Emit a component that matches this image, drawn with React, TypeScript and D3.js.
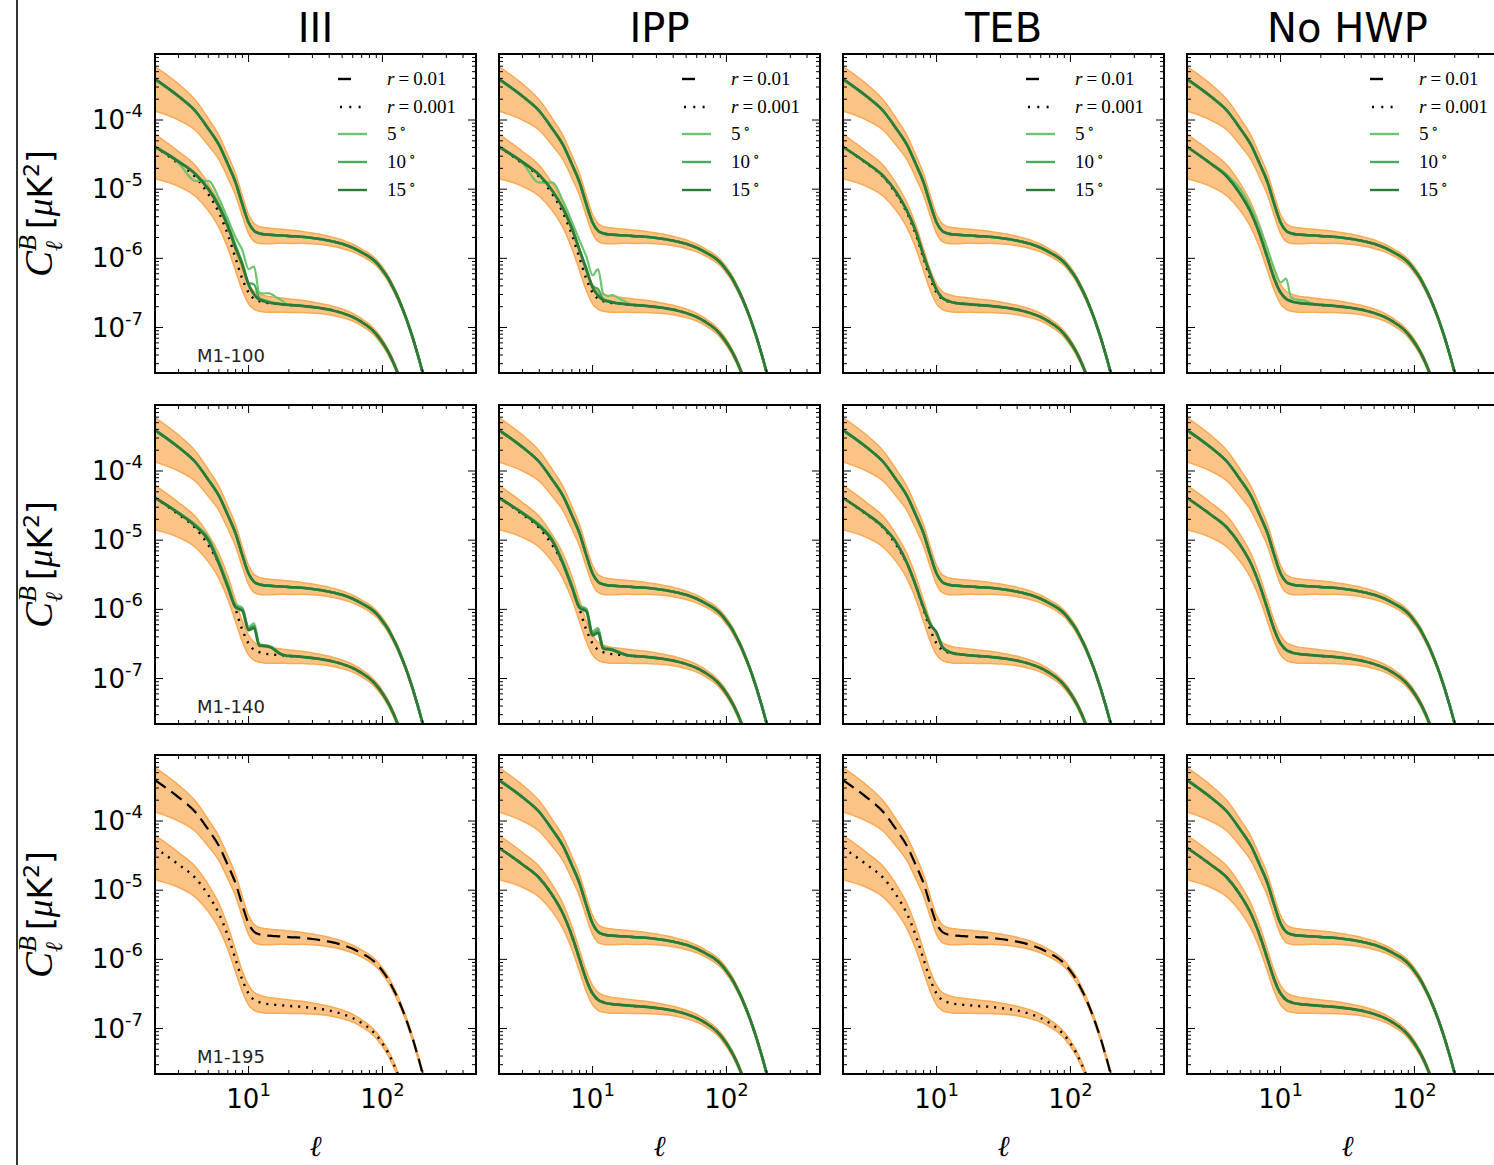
import React from "react";
import * as d3 from "d3";

// column / row headings
const columnTitles = ["III", "IPP", "TEB", "No HWP"];
const rowLabels = ["M1-100", "M1-140", "M1-195"];
const angleLabels = ["5", "10", "15"];
const angleColors = ["#6cc46e", "#45ad5b", "#2b7b38"];

// multipoles
const ell = [2, 3, 4, 5, 6, 7, 8, 9, 10, 11, 12, 13, 14, 15, 16, 17, 18, 19, 20, 25, 30, 40, 50, 60, 70, 80, 90, 100, 110, 120, 130, 140, 150, 160, 170, 180, 190, 200, 210];
const ellLow = [2, 3, 4, 5, 6, 7, 8, 9, 10, 11, 12, 13, 14, 15, 16, 17, 18, 19, 20, 25, 30, 40, 50, 60, 70, 80, 90, 100, 110, 120, 130, 140, 150];
const ellDev = [2, 3, 4, 5, 6, 7, 8, 9, 10, 11, 12, 13, 14, 15, 16, 17, 18, 19, 20];

// r = 0.01 input spectrum and its band
const clR01 = [3.9e-4, 2.2e-4, 1.35e-4, 7.5e-5, 4.4e-5, 2.3e-5, 1.25e-5, 6.0e-6, 3.3e-6, 2.5e-6, 2.3e-6, 2.22e-6, 2.2e-6, 2.18e-6, 2.16e-6, 2.15e-6, 2.14e-6, 2.12e-6, 2.1e-6, 2.05e-6, 1.97e-6, 1.8e-6, 1.62e-6, 1.42e-6, 1.22e-6, 1.05e-6, 8.7e-7, 6.8e-7, 5.2e-7, 3.8e-7, 2.75e-7, 1.95e-7, 1.38e-7, 9.6e-8, 6.7e-8, 4.6e-8, 3.2e-8, 2.2e-8, 1.5e-8];
const clR01Hi = [5.9e-4, 3.3e-4, 1.95e-4, 1.05e-4, 6.0e-5, 3.1e-5, 1.67e-5, 7.9e-6, 4.3e-6, 3.2e-6, 2.9e-6, 2.8e-6, 2.75e-6, 2.7e-6, 2.68e-6, 2.65e-6, 2.63e-6, 2.6e-6, 2.56e-6, 2.45e-6, 2.32e-6, 2.08e-6, 1.85e-6, 1.6e-6, 1.36e-6, 1.17e-6, 9.6e-7, 7.5e-7, 5.7e-7, 4.15e-7, 3.0e-7, 2.11e-7, 1.49e-7, 1.04e-7, 7.2e-8, 4.95e-8, 3.43e-8, 2.36e-8, 1.6e-8];
const clR01Lo = [1.35e-4, 1.0e-4, 7.1e-5, 4.3e-5, 2.7e-5, 1.46e-5, 8.2e-6, 4.05e-6, 2.3e-6, 1.76e-6, 1.65e-6, 1.62e-6, 1.62e-6, 1.63e-6, 1.64e-6, 1.65e-6, 1.65e-6, 1.65e-6, 1.64e-6, 1.65e-6, 1.62e-6, 1.52e-6, 1.39e-6, 1.24e-6, 1.08e-6, 9.3e-7, 7.8e-7, 6.1e-7, 4.7e-7, 3.45e-7, 2.5e-7, 1.79e-7, 1.27e-7, 8.8e-8, 6.2e-8, 4.25e-8, 2.97e-8, 2.04e-8, 1.4e-8];

// r = 0.001 input spectrum and its band
const clR001 = [4.1e-5, 2.35e-5, 1.5e-5, 8.5e-6, 4.6e-6, 2.2e-6, 1.0e-6, 5.0e-7, 3.2e-7, 2.6e-7, 2.4e-7, 2.3e-7, 2.25e-7, 2.22e-7, 2.2e-7, 2.18e-7, 2.16e-7, 2.14e-7, 2.12e-7, 2.06e-7, 1.98e-7, 1.82e-7, 1.62e-7, 1.42e-7, 1.2e-7, 1.0e-7, 8.0e-8, 6.1e-8, 4.5e-8, 3.2e-8, 2.2e-8, 1.5e-8, 1.0e-8];
const clR001Hi = [6.2e-5, 3.5e-5, 2.2e-5, 1.2e-5, 6.4e-6, 3.0e-6, 1.35e-6, 6.7e-7, 4.2e-7, 3.35e-7, 3.05e-7, 2.9e-7, 2.82e-7, 2.77e-7, 2.73e-7, 2.7e-7, 2.66e-7, 2.62e-7, 2.59e-7, 2.47e-7, 2.34e-7, 2.1e-7, 1.85e-7, 1.6e-7, 1.34e-7, 1.11e-7, 8.8e-8, 6.7e-8, 4.9e-8, 3.5e-8, 2.4e-8, 1.63e-8, 1.08e-8];
const clR001Lo = [1.42e-5, 1.1e-5, 7.9e-6, 4.9e-6, 2.8e-6, 1.4e-6, 6.6e-7, 3.4e-7, 2.2e-7, 1.83e-7, 1.72e-7, 1.68e-7, 1.66e-7, 1.66e-7, 1.66e-7, 1.66e-7, 1.66e-7, 1.66e-7, 1.65e-7, 1.65e-7, 1.62e-7, 1.53e-7, 1.39e-7, 1.24e-7, 1.06e-7, 8.9e-8, 7.2e-8, 5.5e-8, 4.1e-8, 2.9e-8, 2.0e-8, 1.37e-8, 9.2e-9];

// recovered r = 0.001 spectra at low ell (ell = 2..20), per panel and angle
const m100III5 = [4.1e-5, 2.4e-5, 1.32e-5, 1.32e-5, 7.4e-6, 3.7e-6, 2.0e-6, 1.3e-6, 7.0e-7, 7.6e-7, 3.2e-7, 3.1e-7, 3.15e-7, 3.0e-7, 2.75e-7, 2.6e-7, 2.4e-7, 2.2e-7, 2.12e-7];
const m100III10 = [4.1e-5, 2.55e-5, 1.7e-5, 1.05e-5, 6.0e-6, 3.1e-6, 1.55e-6, 8.5e-7, 4.4e-7, 4.2e-7, 2.7e-7, 2.5e-7, 2.4e-7, 2.3e-7, 2.25e-7, 2.2e-7, 2.17e-7, 2.14e-7, 2.12e-7];
const m100III15 = [4.1e-5, 2.5e-5, 1.65e-5, 1.0e-5, 5.6e-6, 2.9e-6, 1.4e-6, 8.0e-7, 4.2e-7, 3.0e-7, 2.55e-7, 2.4e-7, 2.3e-7, 2.25e-7, 2.22e-7, 2.19e-7, 2.16e-7, 2.14e-7, 2.12e-7];
const m100IPP5 = [4.1e-5, 2.4e-5, 1.24e-5, 1.24e-5, 6.8e-6, 3.4e-6, 1.8e-6, 1.05e-6, 5.7e-7, 7.0e-7, 3.1e-7, 2.85e-7, 2.95e-7, 2.8e-7, 2.6e-7, 2.45e-7, 2.3e-7, 2.2e-7, 2.12e-7];
const m100IPP10 = [4.1e-5, 2.5e-5, 1.6e-5, 9.6e-6, 5.4e-6, 2.8e-6, 1.35e-6, 7.2e-7, 4.0e-7, 3.6e-7, 2.6e-7, 2.45e-7, 2.35e-7, 2.28e-7, 2.23e-7, 2.2e-7, 2.17e-7, 2.14e-7, 2.12e-7];
const m100IPP15 = [4.1e-5, 2.45e-5, 1.6e-5, 9.5e-6, 5.3e-6, 2.7e-6, 1.3e-6, 6.8e-7, 3.8e-7, 2.9e-7, 2.5e-7, 2.38e-7, 2.3e-7, 2.25e-7, 2.22e-7, 2.19e-7, 2.16e-7, 2.14e-7, 2.12e-7];
const m100TEB = [4.1e-5, 2.4e-5, 1.55e-5, 9.0e-6, 4.9e-6, 2.45e-6, 1.1e-6, 5.8e-7, 3.5e-7, 2.7e-7, 2.45e-7, 2.32e-7, 2.26e-7, 2.22e-7, 2.2e-7, 2.18e-7, 2.16e-7, 2.14e-7, 2.12e-7];
const m100NoHWP5 = [4.1e-5, 2.4e-5, 1.6e-5, 1.0e-5, 5.4e-6, 2.8e-6, 1.35e-6, 7.0e-7, 4.5e-7, 5.1e-7, 2.7e-7, 2.55e-7, 2.5e-7, 2.45e-7, 2.35e-7, 2.25e-7, 2.18e-7, 2.14e-7, 2.12e-7];
const m140III5 = [4.1e-5, 2.5e-5, 1.7e-5, 1.1e-5, 5.1e-6, 2.35e-6, 1.18e-6, 1.05e-6, 5.6e-7, 6.3e-7, 3.2e-7, 3.05e-7, 3.0e-7, 2.85e-7, 2.6e-7, 2.35e-7, 2.22e-7, 2.15e-7, 2.12e-7];
const m140III10 = [4.1e-5, 2.5e-5, 1.65e-5, 1.05e-5, 4.9e-6, 2.25e-6, 1.12e-6, 1.0e-6, 5.3e-7, 5.8e-7, 3.1e-7, 3.0e-7, 2.95e-7, 2.8e-7, 2.55e-7, 2.32e-7, 2.2e-7, 2.15e-7, 2.12e-7];
const m140III15 = [4.1e-5, 2.45e-5, 1.6e-5, 1.0e-5, 4.6e-6, 2.1e-6, 1.07e-6, 9.5e-7, 5.0e-7, 5.4e-7, 3.0e-7, 2.95e-7, 2.9e-7, 2.75e-7, 2.5e-7, 2.3e-7, 2.2e-7, 2.15e-7, 2.12e-7];
const m140IPP5 = [4.1e-5, 2.5e-5, 1.7e-5, 1.05e-5, 5.0e-6, 2.3e-6, 1.15e-6, 1.02e-6, 4.8e-7, 5.4e-7, 2.9e-7, 2.75e-7, 2.7e-7, 2.55e-7, 2.4e-7, 2.28e-7, 2.2e-7, 2.15e-7, 2.12e-7];
const m140IPP10 = [4.1e-5, 2.5e-5, 1.65e-5, 1.02e-5, 4.8e-6, 2.2e-6, 1.1e-6, 9.8e-7, 4.5e-7, 5.0e-7, 2.8e-7, 2.7e-7, 2.65e-7, 2.5e-7, 2.38e-7, 2.27e-7, 2.19e-7, 2.14e-7, 2.12e-7];
const m140IPP15 = [4.1e-5, 2.45e-5, 1.6e-5, 9.8e-6, 4.6e-6, 2.1e-6, 1.05e-6, 9.3e-7, 4.2e-7, 4.6e-7, 2.7e-7, 2.65e-7, 2.6e-7, 2.45e-7, 2.35e-7, 2.25e-7, 2.18e-7, 2.14e-7, 2.12e-7];
const m140TEB = [4.1e-5, 2.4e-5, 1.55e-5, 9.2e-6, 4.7e-6, 2.2e-6, 1.05e-6, 6.0e-7, 4.6e-7, 2.9e-7, 2.5e-7, 2.35e-7, 2.28e-7, 2.24e-7, 2.21e-7, 2.18e-7, 2.16e-7, 2.14e-7, 2.12e-7];
const baseLow = clR001.slice(0, ellDev.length);

// per panel [row][col]: recovered curves for 5/10/15 deg, or null when only the input is drawn
const panelCurves = [
  [[m100III5, m100III10, m100III15], [m100IPP5, m100IPP10, m100IPP15], [m100TEB, m100TEB, m100TEB], [m100NoHWP5, baseLow, baseLow]],
  [[m140III5, m140III10, m140III15], [m140IPP5, m140IPP10, m140IPP15], [m140TEB, m140TEB, m140TEB], [baseLow, baseLow, baseLow]],
  [null, [baseLow, baseLow, baseLow], null, [baseLow, baseLow, baseLow]],
];

// layout
const W = 1494, H = 1165;
const colLeft = [155, 499, 843, 1187];
const rowTop = [54, 405, 755];
const PW = 321, PH = 319;

const x = d3.scaleLog().domain([2, 500]).range([0, PW]);
const y = d3.scaleLog().domain([9e-4, 2.2e-8]).range([0, PH]);

const line = d3.line<[number, number]>().x(d => x(d[0])).y(d => y(d[1])).curve(d3.curveMonotoneX);
const area = d3.area<[number, number, number]>().x(d => x(d[0])).y0(d => y(d[1])).y1(d => y(d[2])).curve(d3.curveMonotoneX);

const isMajor = (t: number) => Math.abs(Math.log10(t) - Math.round(Math.log10(t))) < 1e-6;
const xTicks = x.ticks();
const yTicks = y.ticks();

const bandFill = "#fcc387";
const bandEdge = "#f8aa56";
const sans = "DejaVu Sans, sans-serif";
const serif = "Liberation Serif, DejaVu Serif, serif";

const upperPts = ell.map((l, i) => [l, clR01[i]] as [number, number]);
const lowerPts = ellLow.map((l, i) => [l, clR001[i]] as [number, number]);
const upperBand = ell.map((l, i) => [l, clR01Lo[i], clR01Hi[i]] as [number, number, number]);
const lowerBand = ellLow.map((l, i) => [l, clR001Lo[i], clR001Hi[i]] as [number, number, number]);

function recovered(dev: number[]): [number, number][] {
  const head = ellDev.map((l, i) => [l, dev[i]] as [number, number]);
  return head.concat(lowerPts.slice(ellDev.length));
}

function Panel({ r, c }: { r: number; c: number }) {
  const curves = panelCurves[r][c];
  const id = `clip-${r}-${c}`;
  return (
    <g transform={`translate(${colLeft[c]},${rowTop[r]})`}>
      <defs>
        <clipPath id={id}>
          <rect x={0} y={0} width={PW} height={PH} />
        </clipPath>
      </defs>
      <g clipPath={`url(#${id})`}>
        <path d={area(upperBand) || ""} fill={bandFill} stroke={bandEdge} strokeWidth={1.5} />
        <path d={area(lowerBand) || ""} fill={bandFill} stroke={bandEdge} strokeWidth={1.5} />
        <path d={line(upperPts) || ""} fill="none" stroke="#000" strokeWidth={2.2} strokeDasharray="13,7" />
        <path d={line(lowerPts) || ""} fill="none" stroke="#000" strokeWidth={2.4} strokeDasharray="2,6" />
        {curves &&
          curves.map((dev, k) => (
            <g key={k}>
              <path d={line(upperPts) || ""} fill="none" stroke={angleColors[k]} strokeWidth={2.6} />
              <path d={line(recovered(dev)) || ""} fill="none" stroke={angleColors[k]} strokeWidth={k === 2 ? 2.8 : 2.2} />
            </g>
          ))}
      </g>
      {/* ticks on all four sides, pointing inward */}
      {xTicks.map((t, i) => {
        const len = isMajor(t) ? 8 : 4;
        const px = x(t);
        return (
          <g key={`xt${i}`} stroke="#000" strokeWidth={1}>
            <line x1={px} x2={px} y1={PH} y2={PH - len} />
            <line x1={px} x2={px} y1={0} y2={len} />
          </g>
        );
      })}
      {yTicks.map((t, i) => {
        const len = isMajor(t) ? 8 : 4;
        const py = y(t);
        return (
          <g key={`yt${i}`} stroke="#000" strokeWidth={1}>
            <line x1={0} x2={len} y1={py} y2={py} />
            <line x1={PW} x2={PW - len} y1={py} y2={py} />
          </g>
        );
      })}
      <rect x={0} y={0} width={PW} height={PH} fill="none" stroke="#000" strokeWidth={2} />
      {c === 0 && (
        <text x={42} y={PH - 11} fontFamily={sans} fontSize={18} fill="#222">
          {rowLabels[r]}
        </text>
      )}
      {c === 0 &&
        yTicks.filter(isMajor).map((t, i) => (
          <text key={`yl${i}`} x={-12} y={y(t) + 9} textAnchor="end" fontFamily={sans} fontSize={26} fill="#000">
            10
            <tspan fontSize={18} dy={-12}>{String(Math.round(Math.log10(t)))}</tspan>
          </text>
        ))}
      {r === 2 &&
        xTicks.filter(isMajor).map((t, i) => (
          <text key={`xl${i}`} x={x(t)} y={PH + 34} textAnchor="middle" fontFamily={sans} fontSize={26} fill="#000">
            10
            <tspan fontSize={18} dy={-12}>{String(Math.round(Math.log10(t)))}</tspan>
          </text>
        ))}
      {r === 2 && (
        <text x={PW / 2} y={PH + 82} textAnchor="middle" fontFamily="DejaVu Serif, serif" fontStyle="italic" fontSize={29}>
          ℓ
        </text>
      )}
      {r === 0 && <Legend />}
    </g>
  );
}

function Legend() {
  const rowsY = [25, 53, 80, 108, 136];
  const x0 = 183, x1 = 212, tx = 232;
  return (
    <g>
      <line x1={x0} x2={x0 + 13} y1={rowsY[0]} y2={rowsY[0]} stroke="#000" strokeWidth={2.4} />
      <line x1={x0 + 2} x2={x1} y1={rowsY[1]} y2={rowsY[1]} stroke="#000" strokeWidth={2.4} strokeDasharray="2,7.3" />
      {angleLabels.map((a, k) => (
        <line key={k} x1={x0} x2={x1} y1={rowsY[k + 2]} y2={rowsY[k + 2]} stroke={angleColors[k]} strokeWidth={2.4} />
      ))}
      <text x={tx} y={rowsY[0] + 6} fontFamily={serif} fontSize={19}>
        <tspan fontStyle="italic">r</tspan>
        <tspan dx={4}>=</tspan>
        <tspan dx={4}>0.01</tspan>
      </text>
      <text x={tx} y={rowsY[1] + 6} fontFamily={serif} fontSize={19}>
        <tspan fontStyle="italic">r</tspan>
        <tspan dx={4}>=</tspan>
        <tspan dx={4}>0.001</tspan>
      </text>
      {angleLabels.map((a, k) => (
        <text key={k} x={tx} y={rowsY[k + 2] + 6} fontFamily={serif} fontSize={19}>
          {a}
          <tspan fontSize={14} dx={3} dy={-7}>∘</tspan>
        </text>
      ))}
    </g>
  );
}

function YLabel({ cy }: { cy: number }) {
  return (
    <g transform={`translate(52,${cy}) rotate(-90)`}>
      <text textAnchor="middle" fill="#000">
        <tspan fontFamily={serif} fontStyle="italic" fontSize={39}>C</tspan>
        <tspan fontFamily={serif} fontStyle="italic" fontSize={26} dy={-16}>B</tspan>
        <tspan fontFamily="DejaVu Serif, serif" fontStyle="italic" fontSize={24} dx={-16} dy={26}>ℓ</tspan>
        <tspan fontFamily={sans} fontSize={33} dx={12} dy={-10}>[</tspan>
        <tspan fontFamily={serif} fontStyle="italic" fontSize={35}>μ</tspan>
        <tspan fontFamily={sans} fontSize={33}>K</tspan>
        <tspan fontFamily={sans} fontSize={22} dy={-13}>2</tspan>
        <tspan fontFamily={sans} fontSize={33} dy={13}>]</tspan>
      </text>
    </g>
  );
}

export default function App() {
  return (
    <svg width={W} height={H} style={{ position: "absolute", left: 0, top: 0, background: "#fff" }}>
      <rect x={0} y={0} width={W} height={H} fill="#fff" />
      <line x1={17} x2={17} y1={0} y2={H} stroke="#333" strokeWidth={2} />
      {columnTitles.map((t, c) => (
        <text key={t} x={colLeft[c] + PW / 2} y={42} textAnchor="middle" fontFamily={sans} fontSize={40} fill="#000">
          {t}
        </text>
      ))}
      {rowTop.map((top, r) => (
        <YLabel key={r} cy={top + PH / 2} />
      ))}
      {rowTop.map((_, r) => columnTitles.map((_, c) => <Panel key={`${r}-${c}`} r={r} c={c} />))}
    </svg>
  );
}
